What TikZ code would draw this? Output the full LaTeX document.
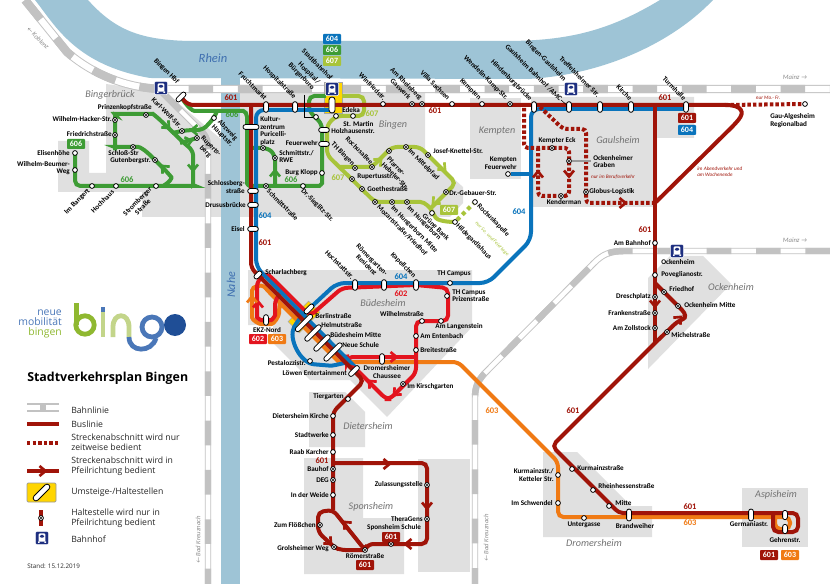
\documentclass[tikz,border=0pt]{standalone}
\usepackage{fontspec}
\setmainfont{Carlito}
\newfontfamily\legendfont{Open Sans}
\usetikzlibrary{shapes.misc}
\definecolor{cRiver}{HTML}{9EC4D6}
\definecolor{cBlock}{HTML}{E0E0E0}
\definecolor{cRail}{HTML}{C2C2C2}
\definecolor{cA}{HTML}{A01409}
\definecolor{cB}{HTML}{E3141E}
\definecolor{cC}{HTML}{F07A14}
\definecolor{cD}{HTML}{0A74BC}
\definecolor{cF}{HTML}{3E9C35}
\definecolor{cG}{HTML}{A8C43A}
\definecolor{cYel}{HTML}{FFD500}
\definecolor{cNavy}{HTML}{1E2F80}
\definecolor{cRhein}{HTML}{3F6FB0}
\definecolor{cLogoB}{HTML}{4A77B8}
\definecolor{cLogoD}{HTML}{1F4E96}
\definecolor{cLogoG}{HTML}{8FB830}
\definecolor{cLogoL}{HTML}{C3D58A}
\pgfdeclarelayer{bg}
\pgfdeclarelayer{lines}
\pgfsetlayers{bg,lines,main}
\newcounter{lb}
\tikzset{
  stop/.style={circle,draw=black,fill=white,line width=.6pt,minimum size=3.6pt,inner sep=0pt},
  semi/.style={stop,path picture={\fill[black] (path picture bounding box.center) circle (.85pt);}},
  pill/.style={shape=rounded rectangle,draw=black,fill=white,line width=.6pt,minimum width=8pt,minimum height=3.6pt,inner sep=0pt},
  lab/.style={font=\fontsize{5.35}{5.7}\selectfont\bfseries,inner sep=0pt,align=left,text=black},
  rlab/.style={lab,align=right},
  clab/.style={lab,align=center},
  bline/.style={line width=3pt,rounded corners=4pt},
  lA/.style={bline,cA},
  lB/.style={bline,cB},
  lC/.style={bline,cC},
  lD/.style={bline,cD},
  lF/.style={bline,cF},
  lG/.style={bline,cG},
  dotA/.style={lA,dash pattern=on 2.6pt off 1.6pt,rounded corners=3pt},
  badge/.style={font=\fontsize{6}{6}\selectfont\bfseries,text=white,minimum width=13.5pt,minimum height=7.5pt,inner sep=0pt,rounded corners=.6pt},
  num/.style={font=\fontsize{6.4}{6.4}\selectfont\bfseries,inner sep=0pt},
  area/.style={font=\fontsize{7.6}{7.6}\selectfont\itshape,text=black!55,inner sep=0pt},
  note/.style={font=\fontsize{3.9}{4.6}\selectfont\itshape,text=cA,inner sep=0pt,align=left},
  hint/.style={font=\fontsize{5}{5}\selectfont\itshape,text=black!45,inner sep=0pt},
  leg/.style={font=\legendfont\fontsize{6.5}{7.6}\selectfont,inner sep=0pt,anchor=west,align=left,text=black!85},
  railA/.style={cRail,line width=#1},
  railB/.style={white,line width=#1-1.4pt},
  railC/.style={cRail,line width=#1,dash pattern=on 18.5pt off 18.5pt},
  bhf/.style={rectangle,rounded corners=1pt,fill=cNavy,draw=white,line width=.5pt,minimum size=10pt,inner sep=0pt,
    path picture={
      \fill[white,rounded corners=.8pt] ([xshift=-2.6pt,yshift=-2.8pt]path picture bounding box.center) rectangle ([xshift=2.6pt,yshift=3.4pt]path picture bounding box.center);
      \fill[cNavy] ([xshift=-1.7pt,yshift=.2pt]path picture bounding box.center) rectangle ([xshift=1.7pt,yshift=2.3pt]path picture bounding box.center);
      \fill[white] ([xshift=-3pt,yshift=-3.6pt]path picture bounding box.center) rectangle ([xshift=-1.8pt,yshift=-2.6pt]path picture bounding box.center);
      \fill[white] ([xshift=3pt,yshift=-3.6pt]path picture bounding box.center) rectangle ([xshift=1.8pt,yshift=-2.6pt]path picture bounding box.center);
    }},
}
\newcommand\Lb[3][]{\stepcounter{lb}\node[lab,#1] (lb\arabic{lb}) at (#2) {#3};}
\newcommand\Rd[2]{\Lb[rotate=-45,anchor=east]{#1}{#2}}
\newcommand\Rs[2]{\Lb[rotate=-45,anchor=west]{#1}{#2}}
\newcommand\Bd[3]{\stepcounter{lb}\node[badge,fill=#1] (lb\arabic{lb}) at (#2) {#3};}
\newcommand\Nm[3]{\stepcounter{lb}\node[num,text=#1] (lb\arabic{lb}) at (#2) {#3};}
\newcommand\Ar[2]{\stepcounter{lb}\node[area] (lb\arabic{lb}) at (#1) {#2};}
\newcommand\Chev[3]{\draw[#3,line width=2pt,miter limit=4,shift={(#1)},rotate=#2] (-4.5,-5) -- (1.5,0) -- (-4.5,5);}
\newcommand\Rail[2]{\draw[railA=#1] #2; \draw[railB=#1] #2; \draw[railC=#1] #2;}
\begin{document}
\begin{tikzpicture}[x=.75pt,y=-.75pt]
\useasboundingbox (0,0) rectangle (830,584);

% ---------- background: districts, rivers, railways
\begin{pgfonlayer}{bg}
\fill[white] (0,0) rectangle (830,584);
\fill[cBlock] (58,141) -- (89,141) -- (89,173) -- (106,173) -- (106,84) -- (165,92) -- (222,140) -- (222,217) -- (142,217) -- (142,192) -- (58,192) -- cycle;
\fill[cBlock] (240,93) -- (425,93) -- (425,153) -- (463,187) -- (463,203) -- (450,217) -- (240,217) -- cycle;
\fill[cBlock] (470,98) rectangle (521,179);
\fill[cBlock] (531,97) -- (694,97) -- (694,138) -- (657,138) -- (657,207) -- (531,207) -- cycle;
\fill[cBlock] (248,270) -- (472,270) -- (472,327) -- (387,417) -- (350,380) -- (310,380) -- (273,343) -- (273,325) -- (248,325) -- cycle;
\fill[cBlock] (309,392) -- (345,392) -- (365,412) -- (365,447) -- (309,447) -- cycle;
\fill[cBlock] (304,458) -- (363,458) -- (363,518) -- (404,518) -- (404,574) -- (304,574) -- cycle;
\fill[cBlock] (418,459) rectangle (470,572);
\fill[cBlock] (543,452) -- (577,452) -- (631,506) -- (652,506) -- (652,537) -- (543,537) -- cycle;
\fill[cBlock] (742,488) rectangle (808,547);
\fill[cBlock] (648,278) -- (670,256) -- (703,256) -- (731,284) -- (648,369) -- cycle;
\fill[cRiver] (35,0) .. controls (55,25) and (75,65) .. (150,78) -- (528,79) .. controls (600,75) and (670,45) .. (713,0) -- (660,0) .. controls (610,30) and (570,41) .. (505,41) -- (190,41) .. controls (140,40) and (115,30) .. (88,0) -- cycle;
\fill[cRiver] (221,78) rectangle (240,584);
\Rail{6.2pt}{(25,0) -- (67,52) .. controls (85,68) and (120,89) .. (165,89) -- (830,89)}
\Rail{4.8pt}{(163,93) -- (203,133) .. controls (207,138) and (208,142) .. (208,150) -- (208,584)}
\Rail{4.8pt}{(830,251) -- (625,251) .. controls (610,251) and (603,254) .. (594,263) -- (484,374) .. controls (477,382) and (475,388) .. (475,398) -- (475,584)}
\fill[cYel,draw=black!35,line width=.4pt] (324,82) rectangle (342,113);
\node[rectangle,fill=cYel,draw=black!35,line width=.4pt,rotate=45,minimum width=21.7pt,minimum height=12pt,inner sep=0pt] (berlinbg) at (304,317) {};
\end{pgfonlayer}

% ---------- stops
\node[pill,rotate=45,minimum width=9pt] (hbf) at (181,97) {};
\node[bhf] (bhfhbf) at (161,88) {};
\node[semi] (karl) at (182,131) {};
\node[semi] (rup) at (197,138) {};
\node[stop] (abz) at (214,118) {};
\node[semi] (prinz) at (146,115) {};
\node[semi] (hacker) at (115,120) {};
\node[semi] (fried) at (115,135) {};
\node[semi] (schloss) at (133,147) {};
\node[semi] (guten) at (155,160) {};
\node[stop] (eisenh) at (75,153) {};
\node[stop] (beumer) at (75,170) {};
\node[stop] (bangert) at (92,186) {};
\node[stop] (hochh) at (116,186) {};
\node[stop] (stromb) at (156,186) {};
\node[pill,minimum width=12pt] (kultur) at (251,127) {};
\node[semi] (purc) at (263,148) {};
\node[semi] (rwe) at (275,158) {};
\node[stop] (burg) at (322,173) {};
\node[semi] (schmitt) at (266,186) {};
\node[stop] (sieg) at (303,186) {};
\node[pill] (schlossb) at (253,191) {};
\node[pill] (drusus) at (253,205) {};
\node[pill] (eisel) at (253,229) {};
\node[pill,rotate=90] (frucht) at (266,107) {};
\node[pill,rotate=90] (hospstr) at (295,107) {};
\node[stop] (hospital) at (316,117) {};
\node[bhf] (bhfstadt) at (332,89) {};
\node[pill,rotate=90,minimum width=12pt,minimum height=4.6pt] (stadt) at (332,105) {};
\node[stop] (martin) at (336,116) {};
\node[stop] (edeka) at (353,116) {};
\node[pill] (holz) at (324,130) {};
\node[pill] (feuerw) at (324,144) {};
\node[stop] (winf) at (383,104) {};
\node[semi] (gasw) at (412,104) {};
\node[semi] (rheinb) at (422,104) {};
\node[stop] (villa) at (452,104) {};
\node[stop] (kempt) at (482,104) {};
\node[semi] (wendel) at (510,104) {};
\node[pill,rotate=90] (hind) at (534,107) {};
\node[bhf] (bhfgaul) at (571,89) {};
\node[pill,rotate=90] (gaulb) at (569,107) {};
\node[pill,rotate=90] (treff) at (600,107) {};
\node[pill,rotate=90] (kirche) at (631,107) {};
\node[pill,rotate=90] (turm) at (686,107) {};
\node[stop] (gau) at (805,104) {};
\node[semi] (thb) at (355,168) {};
\node[semi] (rochus) at (372,167) {};
\node[semi] (ruper) at (352,179) {};
\node[semi] (goethe) at (362,189) {};
\node[semi] (mozart) at (375,202) {};
\node[semi] (hungm) at (392,202) {};
\node[semi] (hung) at (407,202) {};
\node[stop] (gruene) at (432,213) {};
\node[stop] (hilde) at (455,222) {};
\node[stop] (kapelle) at (475,202) {};
\node[semi] (pfarrer) at (389,151) {};
\node[semi] (mittel) at (406,147) {};
\node[semi] (josef) at (428,155) {};
\node[semi] (gebauer) at (446,192) {};
\node[stop] (kfeuer) at (508,174) {};
\node[semi] (keck) at (552,148) {};
\node[semi] (ograben) at (569,161) {};
\node[semi] (kender) at (561,196) {};
\node[semi] (globus) at (586,192) {};
\node[stop] (ambf) at (655,243) {};
\node[bhf] (bhfock) at (677,251) {};
\node[stop] (poveg) at (655,275) {};
\node[semi] (dresch) at (655,297) {};
\node[semi] (franken) at (655,313) {};
\node[semi] (zoll) at (655,328) {};
\node[semi] (friedh) at (664,292) {};
\node[semi] (omitte) at (678,306) {};
\node[semi] (michel) at (667,332) {};
\node[pill,rotate=45,minimum width=7pt] (scharl) at (258,275) {};
\node[pill,rotate=90] (ekz) at (266,320) {};
\node[pill,rotate=45,minimum width=9pt] (berl1) at (309,309) {};
\node[pill,rotate=45,minimum width=17pt] (berl2) at (304,323) {};
\node[pill,rotate=45,minimum width=16pt] (helmut) at (313,333) {};
\node[pill,rotate=45,minimum width=16pt] (bmitte) at (322,343) {};
\node[pill,rotate=45,minimum width=18pt] (neue) at (333,352) {};
\node[pill,rotate=45,minimum width=10pt] (loewen) at (354,371) {};
\node[stop] (pesta) at (310,361) {};
\node[pill,rotate=90] (droch) at (382,359) {};
\node[semi] (kirsch) at (403,384) {};
\node[stop] (breit) at (416,350) {};
\node[stop] (enten) at (416,336) {};
\node[stop] (wilh) at (422,321) {};
\node[stop] (lang) at (441,321) {};
\node[stop] (prizen) at (447,296) {};
\node[stop] (thc) at (450,283) {};
\node[pill,rotate=90] (hochst) at (355,285) {};
\node[pill,rotate=90] (roem) at (384,285) {};
\node[pill,rotate=90] (kapel) at (416,285) {};
\node[stop] (tierg) at (348,399) {};
\node[stop] (dkirche) at (333,416) {};
\node[stop] (swerke) at (333,435) {};
\node[stop] (raab) at (333,452) {};
\node[semi] (bauhof) at (333,469) {};
\node[semi] (deg) at (333,480) {};
\node[stop] (weide) at (333,495) {};
\node[semi] (zulass) at (427,485) {};
\node[semi] (thera) at (427,519) {};
\node[semi] (sschule) at (391,544) {};
\node[semi] (roemer) at (365,550) {};
\node[semi] (floess) at (320,525) {};
\node[semi] (grols) at (334,547) {};
\node[stop] (kurm1) at (558,475) {};
\node[stop] (schwen) at (558,503) {};
\node[stop] (unterg) at (584,518) {};
\node[pill,rotate=90,minimum width=9pt] (brand) at (629,515) {};
\node[stop] (kurm2) at (572,469) {};
\node[stop] (rhh) at (593,490) {};
\node[stop] (mitte) at (609,506) {};
\node[pill,rotate=90,minimum width=9pt] (german) at (751,515) {};
\node[pill,rotate=90,minimum width=7pt] (geh1) at (785,515) {};
\node[pill,rotate=90,minimum width=7pt] (geh2) at (785,529) {};

% ---------- lines
\begin{pgfonlayer}{lines}
% 606
\draw[lF] (hbf.center) .. controls (187,106) and (192,111) .. (200,111) -- (238,111) .. controls (245,111) and (247,114) .. (247,122) -- (247,178) .. controls (247,184) and (249,186) .. (255,186) -- (314,186) .. controls (320,186) and (322,183) .. (322,178) -- (322,124) -- (309,111) -- (309,96) -- (326,96);
\draw[lF] (250,148) -- (268,148) -- (275,155) -- (275,186);
\draw[lF] (217,111) -- (abz.center) -- (203,130) -- (190,130) -- (karl.center) -- (172,133);
\draw[lF] (180,143) -- (rup.center);
\draw[lF] (eisenh.center) -- (75,186) -- (190,186) .. controls (193,186) and (193,184) .. (193,180) -- (193,160) .. controls (193,152) and (190,148) .. (185,144) -- (157,117) .. controls (153,114) and (150,114) .. (146,114) -- (120,114) .. controls (116,114) and (115,116) .. (115,120) -- (115,145) .. controls (115,147) and (117,147) .. (120,147) -- (133,147) .. controls (140,147) and (145,150) .. (155,160) -- (168,173) .. controls (172,178) and (170,182) .. (163,186);
% 607
\draw[lG] (342,96) -- (364,96) -- (364,116) -- (336,116) -- (327,125) -- (327,155) -- (375,202) -- (415,202) .. controls (425,202) and (430,208) .. (433,213) .. controls (437,220) and (445,222) .. (hilde.center);
\draw[lG] (340,167) -- (372,167) -- (392,147) -- (420,147) -- (456,183) -- (431,208);
\draw[cG,line width=3pt,dash pattern=on 3pt off 2.6pt] (hilde) -- (kapelle);
% 603
\draw[lC] (339,362) -- (458,362) -- (558,462) -- (558,517) -- (790,517) -- (790,529) -- (775,529) -- (775,517);
\draw[lC] (339,362) -- (268,291) .. controls (262,284) and (252,286) .. (252,296) -- (252,312) .. controls (252,320) and (259,324) .. (266,324) .. controls (274,324) and (279,316) .. (279,308) -- (280,303);
% 602
\draw[lB] (kapel.center) -- (342,288) -- (310,316) -- (273,279) .. controls (265,272) and (257,280) .. (257,292) -- (257,312) .. controls (257,318) and (261,320) .. (266,320) .. controls (272,320) and (275,316) .. (275,310) .. controls (275,302) and (277,296) .. (283,290);
\draw[lB] (kapel.center) -- (448,288) -- (448,321) -- (416,321) -- (416,373) -- (390,399) -- (386,399) -- (347,360) -- (347,357) -- (416,357);
% 604
\draw[lD,rounded corners=6pt] (332,110) -- (256,110) -- (256,267) -- (345,357) .. controls (349,361) and (335,366) .. (322,365) .. controls (300,363) and (288,338) .. (298,320) -- (310,308) -- (337,283) -- (488,283) -- (531,240) -- (531,109) -- (686,109);
\draw[lD] (kfeuer) -- (531,174);
% 601
\draw[lA] (hbf.center) -- (188,105) -- (720,105) .. controls (742,105) and (745,112) .. (735,124) -- (656,202);
\draw[lA] (251,105) -- (251,268) -- (364,381) -- (333,412) -- (333,510);
\draw[lA] (655,105) -- (655,343);
\draw[lA] (655,283) -- (678,306) .. controls (686,314) and (686,318) .. (678,321) -- (655,343) -- (552,446) -- (612,506) .. controls (617,511) and (620,513) .. (628,513) -- (798,513) -- (798,532) -- (773,532) -- (773,513);
\draw[lA] (333,463) -- (427,463) -- (427,544) -- (368,544) -- (365,550) -- (333,510) -- (318,512) -- (318,532) -- (334,547) -- (340,550) -- (365,550);
\draw[dotA] (725,105) -- (gau);
\draw[dotA] (540,107) -- (563,129) -- (586,129) -- (586,203) -- (655,203);
\draw[dotA] (524,108) -- (524,148) -- (569,148) -- (569,196) -- (538,196) -- (538,148);
\draw[black!40,line width=.9pt] (ograben) -- (591,161);
\draw[black,line width=.4pt] (304,95) -- (304,117) -- (hospital);
\draw[black,line width=.4pt] (561,100) -- (gaulb);
\Chev{168,127}{-45}{cF}
\Chev{193,130}{180}{cF}
\Chev{190,141}{15}{cF}
\Chev{193,169}{-90}{cF}
\Chev{163,167}{135}{cF}
\Chev{275,172}{90}{cF}
\Chev{380,160}{45}{cG}
\Chev{444,169}{-45}{cG}
\Chev{434,203}{-135}{cG}
\Chev{538,173}{90}{cA}
\Chev{569,175}{-90}{cA}
\Chev{624,203}{0}{cA}
\Chev{655,305}{-90}{cA}
\Chev{680,318}{45}{cA}
\Chev{388,464}{0}{cA}
\Chev{427,507}{-90}{cA}
\Chev{407,544}{180}{cA}
\Chev{345,523}{135}{cA}
\Chev{330,543}{-45}{cA}
\Chev{258,303}{90}{cB}
\Chev{252,298}{90}{cC}
\Chev{395,357}{0}{cB}
\Chev{370,382}{135}{cB}
\Chev{395,394}{-135}{cB}
\end{pgfonlayer}

% ---------- labels: area names
\stepcounter{lb}\node[area,text=cRhein,font=\fontsize{9.4}{9.4}\selectfont\itshape] (rhein) at (213,58) {Rhein};
\stepcounter{lb}\node[area,text=cRhein,font=\fontsize{9}{9}\selectfont\itshape,rotate=90] (nahe) at (231,285) {Nahe};
\Ar{110,95}{Bingerbrück}
\Ar{393,125}{Bingen}
\Ar{497,131}{Kempten}
\Ar{618,140}{Gaulsheim}
\Ar{731,287}{Ockenheim}
\Ar{383,303}{Büdesheim}
\Ar{368,426}{Dietersheim}
\Ar{371,507}{Sponsheim}
\Ar{594,543}{Dromersheim}
\Ar{776,495}{Aspisheim}
\stepcounter{lb}\node[hint,rotate=-45] (koblenz) at (38,38) {← Koblenz};
\stepcounter{lb}\node[hint] (mainz1) at (795,77) {Mainz →};
\stepcounter{lb}\node[hint] (mainz2) at (795,240) {Mainz →};
\stepcounter{lb}\node[hint,rotate=90] (krz1) at (198,540) {← Bad Kreuznach};
\stepcounter{lb}\node[hint,rotate=90] (krz2) at (486,538) {← Bad Kreuznach};

% ---------- labels: stops on the Rhine line
\Rd{178,83}{Bingen Hbf}
\Rd{181,127}{Karl-Wolf-Str.}
\Rd{266,99}{Fruchtmarkt}
\Rd{295,98}{Hospitalstraße}
\Lb[rotate=-45,anchor=south east,align=right]{311,91}{Hospital/\\Bürgerburo}
\Rd{332,79}{Stadtbahnhof}
\Rd{385,99}{Winfriedstr.}
\Rd{410,98}{Gaswerk}
\Rd{421,99}{Am Rheinberg}
\Rd{449,99}{Villa Sachsen}
\Rd{480,99}{Kempten}
\Rd{507,99}{Wendelin-Kamp-Str.}
\Rd{531,100}{Hindenburgbrücke}
\Rd{561,100}{Gaulsheim Bahnhof /AMC}
\Rd{565,80}{Bingen-Gaulsheim}
\Rd{599,96}{Treffelsheimer Str.}
\Rd{631,99}{Kirche}
\Rd{685,99}{Turmhalle}
\Lb[anchor=west]{770,120.5}{Gau-Algesheim\\Regionalbad}

% Bingerbrück
\Lb[anchor=east]{152,108}{Prinzenkopfstraße}
\Lb[anchor=east]{112,119}{Wilhelm-Hacker-Str.}
\Lb[anchor=east]{112,134}{Friedrichstraße}
\Lb[anchor=east]{139,153}{Schloß-Str}
\Lb[anchor=east]{151,161}{Gutenbergstr.}
\Lb[anchor=east]{70,153}{Elisenhöhe}
\Lb[anchor=east,rlab]{70,168}{Wilhelm-Beumer-\\Weg}
\Lb[rotate=45,anchor=east]{89,190}{Im Bangert}
\Lb[rotate=45,anchor=east]{113,191}{Hochhaus}
\Lb[rotate=45,clab]{140,204}{Stromberger\\Straße}
\Lb[rotate=-45,clab]{225,133}{Abzweig\\Hauptstr.}
\Lb[rotate=-45,clab]{208,149}{Ruperts-\\berg}

% Bingen
\Lb[anchor=west]{260,131}{Kultur-\\zentrum\\Puricelli-\\platz}
\Lb[anchor=west]{279,156.5}{Schmittstr./\\RWE}
\Lb[anchor=east]{318,173}{Burg Klopp}
\Rs{268,190}{Schmittstraße}
\Rs{302,190}{Dr.-Sieglitz-Str.}
\Lb[rlab,anchor=east]{245,187}{Schlossberg-\\straße}
\Lb[anchor=east]{246,205}{Drususbrücke}
\Lb[anchor=east]{245,229}{Eisel}
\Lb[anchor=west]{342,110}{Edeka}
\Lb[anchor=west]{343,124}{St. Martin}
\Lb[anchor=west]{331,131}{Holzhausenstr.}
\Lb[anchor=east]{318,143}{Feuerwehr}
\Lb[rotate=-45,anchor=west]{332,143}{TH Bingen}
\Rd{372,163}{Rochusallee}
\Lb[anchor=west]{357,177}{Rupertusstr.}
\Lb[anchor=west]{367,189}{Goethestraße}
\Rs{378,206}{Mozartstraße/Friedhof}
\Rs{392,207}{Im Hungerborn Mitte}
\Rs{408,207}{Im Hungerborn}
\Lb[rotate=-45]{436,227}{Grüne Bank}
\Rs{457,225}{Hildegardishaus}
\Rs{478,205}{Rochuskapelle}
\Lb[rotate=-45,anchor=north west,align=left]{390,156}{Pfarrer-\\Hebeler-Str.}
\Rs{409,150}{Im Mittelpfad}
\Lb[anchor=west]{433,151}{Josef-Knettel-Str.}
\Lb[anchor=west]{449,193}{Dr.-Gebauer-Str.}
\stepcounter{lb}\node[note,text=cG,rotate=-45] (sofei) at (492,239) {nur So. und Feiertage};

% Kempten / Gaulsheim
\Lb[rlab,anchor=east]{517,163}{Kempten\\Feuerwehr}
\Lb{557,141}{Kempter Eck}
\Lb[anchor=west]{593,161.5}{Ockenheimer\\Graben}
\Lb{564,202}{Kenderman}
\Lb[anchor=west]{589,192}{Globus-Logistik}
\stepcounter{lb}\node[note] (beruf) at (613,177) {nur im Berufsverkehr};
\stepcounter{lb}\node[note,anchor=west] (abend) at (697,171.5) {im Abendverkehr und\\am Wochenende};
\stepcounter{lb}\node[note] (mofr) at (768,98) {nur Mo.- Fr.};

% Ockenheim
\Lb[anchor=east]{651,243}{Am Bahnhof}
\Lb[anchor=west]{661,262}{Ockenheim}
\Lb[anchor=west]{661,275}{Poveglianostr.}
\Lb[anchor=east]{651,297}{Dreschplatz}
\Lb[anchor=east]{651,313}{Frankenstraße}
\Lb[anchor=east]{651,328}{Am Zollstock}
\Lb[anchor=west]{669,289}{Friedhof}
\Lb[anchor=west]{684,305}{Ockenheim Mitte}
\Lb[anchor=west]{671,335}{Michelstraße}

% Büdesheim
\Lb[anchor=west]{265,273}{Scharlachberg}
\Lb{267,330}{EKZ-Nord}
\Lb[anchor=west]{315,316}{Berlinstraße}
\Lb[anchor=west]{321,325}{Helmutstraße}
\Lb[anchor=west]{330,335}{Büdesheim Mitte}
\Lb[anchor=west]{342,345}{Neue Schule}
\Lb[anchor=east]{306,363}{Pestalozzistr.}
\Lb[anchor=east]{347,373}{Löwen Entertainment}
\Lb[clab]{387,372}{Dromersheimer\\Chaussee}
\Lb[anchor=west]{407,387}{Im Kirschgarten}
\Lb[anchor=west]{420,350}{Breitestraße}
\Lb[anchor=west]{420,336}{Am Entenbach}
\Lb[anchor=east]{424,314}{Wilhelmstraße}
\Lb{459,327}{Am Langenstein}
\Lb[anchor=west]{452,295.5}{TH Campus\\Prizenstraße}
\Lb{454,274}{TH Campus}
\Rd{353,278}{Hochstattstr.}
\Lb[rotate=-45,anchor=east,clab]{384,277}{Römergarten-\\Residenz}
\Rd{415,277}{Kapellchen}

% Dietersheim / Sponsheim
\Lb[anchor=east]{344,397}{Tiergarten}
\Lb[anchor=east]{329,416}{Dietersheim Kirche}
\Lb[anchor=east]{329,435}{Stadtwerke}
\Lb[anchor=east]{329,452}{Raab Karcher}
\Lb[anchor=east]{329,469}{Bauhof}
\Lb[anchor=east]{329,480}{DEG}
\Lb[anchor=east]{329,495}{In der Weide}
\Lb[anchor=east]{423,485}{Zulassungsstelle}
\Lb[anchor=east]{423,519}{TheraGens}
\Lb{394,528}{Sponsheim Schule}
\Lb{365,556}{Römerstraße}
\Lb[anchor=east]{316,525}{Zum Flößchen}
\Lb[anchor=east]{329,549}{Grolsheimer Weg}

% Dromersheim / Aspisheim
\Lb[rlab,anchor=east]{554,475}{Kurmainzstr./\\Ketteler Str.}
\Lb[anchor=east]{553,503}{Im Schwendel}
\Lb{584,525}{Untergasse}
\Lb{635,526}{Brandweiher}
\Lb[anchor=west]{577,468}{Kurmainzstraße}
\Lb[anchor=west]{598,486}{Rheinhessenstraße}
\Lb[anchor=west]{615,503}{Mitte}
\Lb{749,524}{Germaniastr.}
\Lb{785,540}{Gehrenstr.}

% ---------- badges and line numbers
\Bd{cD}{332,39}{604}
\Bd{cF}{332,50}{606}
\Bd{cG}{332,61}{607}
\Bd{cA}{687,118}{601}
\Bd{cD}{687,130}{604}
\Bd{cF}{76,144}{606}
\Bd{cG}{449,210}{607}
\Bd{cB}{258,339}{602}
\Bd{cC}{277,339}{603}
\Bd{cA}{391,537}{601}
\Bd{cA}{365,565}{601}
\Bd{cA}{769,555}{601}
\Bd{cC}{790,555}{603}
\Nm{cA}{231,98}{601}
\Nm{cA}{435,111}{601}
\Nm{cA}{665,98}{601}
\Nm{cA}{645,230}{601}
\Nm{cA}{265,243}{601}
\Nm{cA}{573,411}{601}
\Nm{cA}{690,507}{601}
\Nm{cA}{322,461}{601}
\Nm{cF}{232,115}{606}
\Nm{cF}{127,180}{606}
\Nm{cF}{291,180}{606}
\Nm{cG}{372,114}{607}
\Nm{cG}{338,178}{607}
\Nm{cD}{265,216}{604}
\Nm{cD}{519,212}{604}
\Nm{cD}{401,277}{604}
\Nm{cB}{401,294}{602}
\Nm{cC}{492,411}{603}
\Nm{cC}{690,523}{603}

% ---------- logo
\stepcounter{lb}\node[font=\legendfont\fontsize{7.8}{7.6}\selectfont,align=right,anchor=east,inner sep=0pt] (logotext) at (62,324) {\textcolor{cLogoB}{neue}\\\textcolor{cLogoB}{mobilität}\\\textcolor{cLogoG}{bingen}};
\draw[cLogoG,line width=3.6pt] (76.5,303) -- (76.5,325);
\draw[cLogoG,line width=3.6pt] (85,325) circle (9.2);
\draw[cLogoL,line width=3.6pt] (103,312) -- (103,337);
\draw[cLogoB,line width=3.6pt] (103,307) -- (103,312);
\draw[cLogoL,line width=3.6pt] (113,337) -- (113,327) .. controls (113,312) and (129,312) .. (129,327) -- (129,337);
\draw[cLogoB,line width=3.6pt] (129,337) .. controls (129,353) and (152,353) .. (156,338);
\draw[cLogoB,line width=3.6pt] (152,327) circle (10);
\fill[cLogoD] (175,325) circle (11);

% ---------- legend
\stepcounter{lb}\node[font=\legendfont\bfseries\fontsize{9.3}{9.3}\selectfont,anchor=west,inner sep=0pt] (title) at (27,378) {Stadtverkehrsplan Bingen};
\draw[cRail,line width=1pt] (27,404) -- (59,404);
\draw[cRail,line width=1pt] (27,411) -- (59,411);
\fill[cRail] (40,404) rectangle (46,411);
\draw[cA,line width=3pt] (27,423.5) -- (59,423.5);
\draw[cA,line width=3pt,dash pattern=on 2.6pt off 1.6pt] (27,443) -- (59,443);
\draw[cA,line width=3pt] (27,471) -- (59,471);
\Chev{44,471}{0}{cA}
\fill[cYel,draw=black!40,line width=.5pt,rounded corners=.8pt] (27,483) rectangle (56,502);
\node[pill,rotate=45,minimum width=16pt,minimum height=4.2pt] (legpill) at (41.5,492.5) {};
\draw[cA,line width=3pt] (41,510) -- (41,526);
\node[semi] (legstop) at (41,518) {};
\node[bhf] (legbhf) at (42,538) {};
\node[leg] (leg1) at (71,410) {Bahnlinie};
\node[leg] (leg2) at (71,424) {Buslinie};
\node[leg] (leg3) at (71,442) {Streckenabschnitt wird nur\\zeitweise bedient};
\node[leg] (leg4) at (71,466) {Streckenabschnitt wird in\\Pfeilrichtung bedient};
\node[leg] (leg5) at (71,492) {Umsteige-/Haltestellen};
\node[leg] (leg6) at (71,518.5) {Haltestelle wird nur in\\Pfeilrichtung bedient};
\node[leg] (leg7) at (71,539) {Bahnhof};
\node[leg,font=\legendfont\fontsize{4.7}{5}\selectfont] (stand) at (27,566) {Stand: 15.12.2019};
\end{tikzpicture}
\end{document}
